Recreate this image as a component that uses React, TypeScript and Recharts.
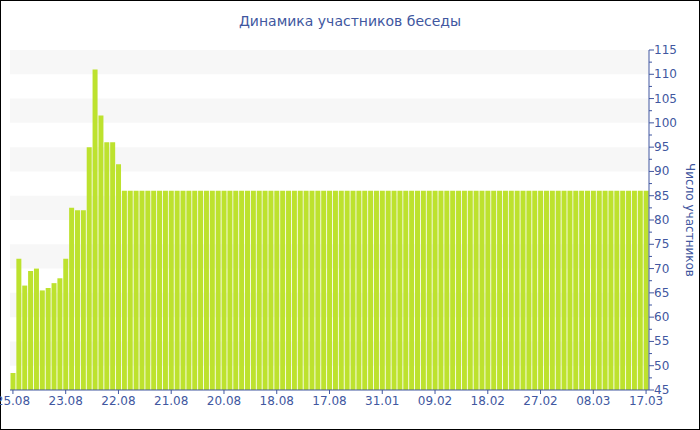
import { Bar, BarChart, CartesianGrid, ReferenceArea, XAxis, YAxis } from 'recharts';

const title = 'Динамика участников беседы';
const yTitle = 'Число участников';

const participants = [
  48.5, 72, 66.5, 69.5, 70, 65.5, 66, 67, 68, 72,
  82.5, 82, 82, 95, 111, 101.5, 96, 96, 91.5, 86,
  86, 86, 86, 86, 86, 86, 86, 86, 86, 86,
  86, 86, 86, 86, 86, 86, 86, 86, 86, 86,
  86, 86, 86, 86, 86, 86, 86, 86, 86, 86,
  86, 86, 86, 86, 86, 86, 86, 86, 86, 86,
  86, 86, 86, 86, 86, 86, 86, 86, 86, 86,
  86, 86, 86, 86, 86, 86, 86, 86, 86, 86,
  86, 86, 86, 86, 86, 86, 86, 86, 86, 86,
  86, 86, 86, 86, 86, 86, 86, 86, 86, 86,
  86, 86, 86, 86, 86, 86, 86, 86, 86,
];

const dateLabels = ['25.08', '23.08', '22.08', '21.08', '20.08', '18.08', '17.08', '31.01', '09.02', '18.02', '27.02', '08.03', '17.03'];
const labelStep = 9;

const yMajor = [45, 50, 55, 60, 65, 70, 75, 80, 85, 90, 95, 100, 105, 110, 115];
const bandStarts = [50, 60, 70, 80, 90, 100, 110];

const blue = '#4157a0';
const font = '"DejaVu Sans", Verdana, sans-serif';

const data = participants.map((v, i) => ({ i, v }));
const xTicks = dateLabels.map((_, k) => k * labelStep);
const yTicks = yMajor.flatMap((v, k) => (k < yMajor.length - 1 ? [v, v + 2.5] : [v]));

const YTick = (props: any) => {
  const { x, y, payload } = props;
  const major = payload.value % 5 === 0;
  const ax = x - 5;
  return (
    <g>
      <line x1={ax} x2={ax + (major ? 5 : 3)} y1={y} y2={y} stroke={blue} />
      {major && (
        <text x={ax + 5} y={y} dy={4} fill={blue} fontSize={12} fontFamily={font} textAnchor="start">
          {payload.value}
        </text>
      )}
    </g>
  );
};

export default function App() {
  return (
    <div
      style={{
        position: 'absolute',
        left: 0,
        top: 0,
        width: 700,
        height: 430,
        boxSizing: 'border-box',
        border: '1px solid #000',
        background: '#fff',
      }}
    >
      <div
        style={{
          position: 'absolute',
          left: 0,
          width: 698,
          top: 12,
          textAlign: 'center',
          color: blue,
          fontFamily: font,
          fontSize: 14,
        }}
      >
        {title}
      </div>
      <div style={{ position: 'absolute', left: -1, top: -1 }}>
        <BarChart
          width={700}
          height={430}
          data={data}
          margin={{ top: 50, right: 11, bottom: 10, left: 10 }}
          barCategoryGap={0.5}
        >
          {bandStarts.map((b) => (
            <ReferenceArea key={b} y1={b} y2={b + 5} fill="#f7f7f7" fillOpacity={1} stroke="none" ifOverflow="hidden" />
          ))}
          <CartesianGrid stroke="none" />
          <XAxis
            dataKey="i"
            ticks={xTicks}
            interval={0}
            tickFormatter={(i: number) => dateLabels[i / labelStep]}
            stroke={blue}
            tickSize={4}
            tickMargin={2}
            height={30}
            tick={{ fill: blue, fontSize: 12, fontFamily: font }}
          />
          <YAxis
            orientation="right"
            domain={[45, 115]}
            ticks={yTicks}
            interval={0}
            width={40}
            stroke={blue}
            tickLine={false}
            tickSize={5}
            tickMargin={0}
            tick={<YTick />}
            label={{
              value: yTitle,
              angle: 90,
              position: 'center',
              dx: 21,
              fill: blue,
              fontSize: 12,
              fontFamily: font,
            }}
          />
          <Bar dataKey="v" fill="#bde22e" isAnimationActive={false} />
        </BarChart>
      </div>
    </div>
  );
}
